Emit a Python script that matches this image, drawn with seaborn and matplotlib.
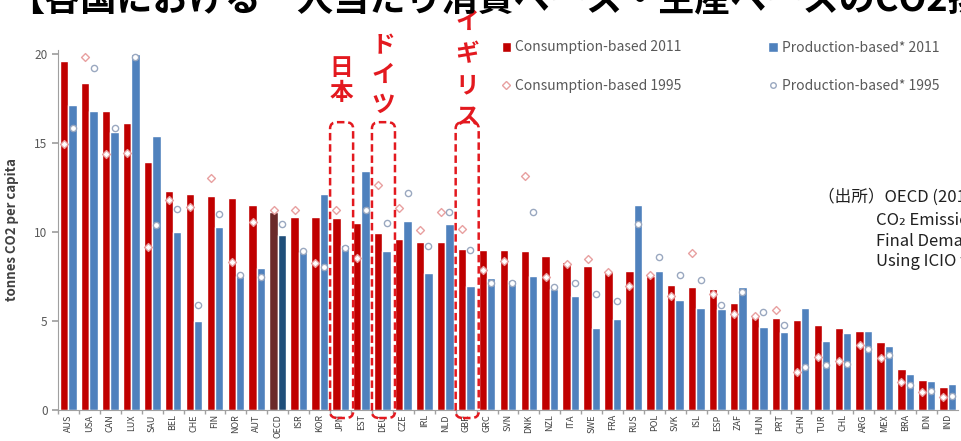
import numpy as np
import pandas as pd
import matplotlib
matplotlib.use("Agg")
from matplotlib import pyplot as plt
from matplotlib.patches import Patch, FancyBboxPatch
from matplotlib.lines import Line2D
import seaborn as sns

# 国別の一人当たりCO2排出量 (t/人)
countries = ["AUS", "USA", "CAN", "LUX", "SAU", "BEL", "CHE", "FIN", "NOR", "AUT",
             "OECD", "ISR", "KOR", "JPN", "EST", "DEU", "CZE", "IRL", "NLD", "GBR",
             "GRC", "SVN", "DNK", "NZL", "ITA", "SWE", "FRA", "RUS", "POL", "SVK",
             "ISL", "ESP", "ZAF", "HUN", "PRT", "CHN", "TUR", "CHL", "ARG", "MEX",
             "BRA", "IDN", "IND"]
cons_2011 = [19.6, 18.35, 16.8, 16.1, 13.9, 12.3, 12.1, 12.0, 11.9, 11.5,
             11.1, 10.85, 10.85, 10.75, 10.5, 9.95, 9.6, 9.45, 9.45, 9.05,
             9.0, 9.0, 8.9, 8.65, 8.3, 8.1, 7.8, 7.8, 7.5, 7.0,
             6.9, 6.8, 6.0, 5.2, 5.15, 5.05, 4.75, 4.6, 4.45, 3.8,
             2.3, 1.7, 1.3]
prod_2011 = [17.1, 16.8, 15.6, 19.96, 15.4, 10.0, 5.0, 10.25, 7.5, 7.95,
             9.8, 8.85, 12.1, 9.25, 13.4, 8.9, 10.6, 7.7, 10.45, 6.95,
             7.4, 7.3, 7.5, 6.8, 6.4, 4.6, 5.1, 11.5, 7.8, 6.15,
             5.7, 5.65, 6.9, 4.65, 4.4, 5.75, 3.85, 4.3, 4.45, 3.6,
             2.0, 1.6, 1.45]
cons_1995 = [14.95, 19.8, 14.35, 14.4, 9.15, 11.8, 11.4, 13.0, 8.3, 10.55,
             11.2, 11.25, 8.25, 11.2, 8.55, 12.6, 11.35, 10.1, 11.1, 10.15,
             7.85, 8.35, 13.15, 7.45, 8.2, 8.45, 7.75, 6.95, 7.55, 6.4,
             8.8, 6.5, 5.4, 5.3, 5.6, 2.15, 2.95, 2.75, 3.65, 2.9,
             1.55, 1.0, 0.75]
prod_1995 = [15.85, 19.2, 15.8, 19.8, 10.4, 11.3, 5.9, 11.0, 7.6, 7.45,
             10.45, 8.9, 8.0, 9.1, 11.2, 10.5, 12.2, 9.2, 11.1, 9.0,
             7.1, 7.1, 11.1, 6.9, 7.15, 6.5, 6.1, 10.45, 8.6, 7.6,
             7.3, 5.9, 6.6, 5.5, 4.75, 2.4, 2.55, 2.6, 3.4, 3.1,
             1.4, 1.05, 0.8]
series = ["Consumption-based 2011", "Production-based* 2011",
          "Consumption-based 1995", "Production-based* 1995"]
highlight = {"JPN": "日\n本", "DEU": "ド\nイ\nツ", "GBR": "イ\nギ\nリ\nス"}

sns.set_theme(style="white")
plt.rcParams['font.family'] = ['Noto Sans CJK JP', 'DejaVu Sans']

df = pd.DataFrame({"country": countries, series[0]: cons_2011, series[1]: prod_2011})
df = df.melt(id_vars="country", var_name="series", value_name="value")

fig = plt.figure(figsize=(9.61, 4.41), dpi=100)
ax = fig.add_axes([58 / 961, 31 / 441, 900 / 961, 360 / 441])

red, blue = "#C00000", "#4F81BD"
sns.barplot(data=df, x="country", y="value", hue="series", palette=[red, blue],
            width=0.8, saturation=1, legend=False, ax=ax)

# OECD平均は濃い色
k = countries.index("OECD")
ax.containers[0][k].set_facecolor("#6B2A2A")
ax.containers[1][k].set_facecolor("#1F4E79")

pos = np.arange(len(countries))
ax.scatter(pos - 0.2, cons_1995, marker="D", s=16, facecolor="white",
           edgecolor="#E8A0A0", linewidth=1, zorder=3)
ax.scatter(pos + 0.2, prod_1995, marker="o", s=20, facecolor="white",
           edgecolor="#9AA8C0", linewidth=1, zorder=3)

ax.set_xlim(-0.5, len(countries) - 0.5)
ax.set_ylim(0, 20.2)
ax.set_yticks([0, 5, 10, 15, 20])
ax.set_xlabel("")
ax.set_ylabel("tonnes CO2 per capita", fontsize=9.5, fontweight="bold", color="#404040")
ax.yaxis.set_label_coords(-0.043, 0.5)
ax.tick_params(axis="y", length=4, color="#A0A0A0", labelsize=8.5, labelcolor="#595959", left=True)
ax.tick_params(axis="x", length=0, labelsize=6.5, labelcolor="#404040", rotation=90, pad=3)
ax.set_xticks(pos - 0.5, minor=True)
ax.tick_params(axis="x", which="minor", length=3, color="#A0A0A0", bottom=True)
sns.despine(ax=ax)
for s in ["left", "bottom"]:
    ax.spines[s].set_color("#A0A0A0")
    ax.spines[s].set_linewidth(0.8)

# 日本・ドイツ・イギリスを囲む
text_y = {"JPN": 18.5, "DEU": 18.8, "GBR": 19.1}
spacing = {"JPN": 1.05, "DEU": 1.3, "GBR": 1.4}
for c, label in highlight.items():
    i = countries.index(c)
    box = FancyBboxPatch((i - 0.5, -0.45), 1.1, 16.6,
                         boxstyle="round,pad=0,rounding_size=0.35",
                         fill=False, edgecolor="#E3191F", linewidth=1.8,
                         linestyle=(0, (3, 1.5)), clip_on=False, zorder=4)
    ax.add_patch(box)
    ax.text(i + 0.05, text_y[c], label, ha="center", va="center", fontsize=17,
            fontweight="bold", color="#E3191F", linespacing=spacing[c],
            clip_on=False, zorder=5)

handles = [Patch(facecolor=red), Line2D([], [], marker="D", ls="", markersize=4,
                                          markerfacecolor="white", markeredgecolor="#E8A0A0"),
           Patch(facecolor=blue), Line2D([], [], marker="o", ls="", markersize=4,
                                           markerfacecolor="white", markeredgecolor="#9AA8C0")]
labels = [series[0], series[2], series[1], series[3]]
fig.legend(handles, labels, ncol=2, loc="upper left", bbox_to_anchor=(489 / 961, 1 - 28 / 441),
           frameon=False, fontsize=10, labelspacing=1.75, columnspacing=6.2,
           handlelength=0.7, handleheight=0.7, handletextpad=0.3, labelcolor="#595959")

# 出所
fig.text(818 / 961, 1 - 197 / 441, "（出所）OECD (2015)", fontsize=12, va="center", color="#202020")
src = ["CO₂ Emissions Embodied in International Trade and",
       "Final Demand",
       "Using ICIO tables"]
for j, line in enumerate(src):
    fig.text(876 / 961, 1 - (221 + j * 20) / 441, line, fontsize=12, va="center",
             color="#202020", family=["Noto Sans CJK JP", "DejaVu Sans"])

# タイトル (上部が切れている)
fig.text(8 / 961, 1 - 10 / 441, "【各国における一人当たり消費ベース・生産ベースのCO2排出量】",
         fontsize=26, fontweight="bold", va="baseline", color="black", zorder=0)

fig.savefig("out.png", dpi=100)
